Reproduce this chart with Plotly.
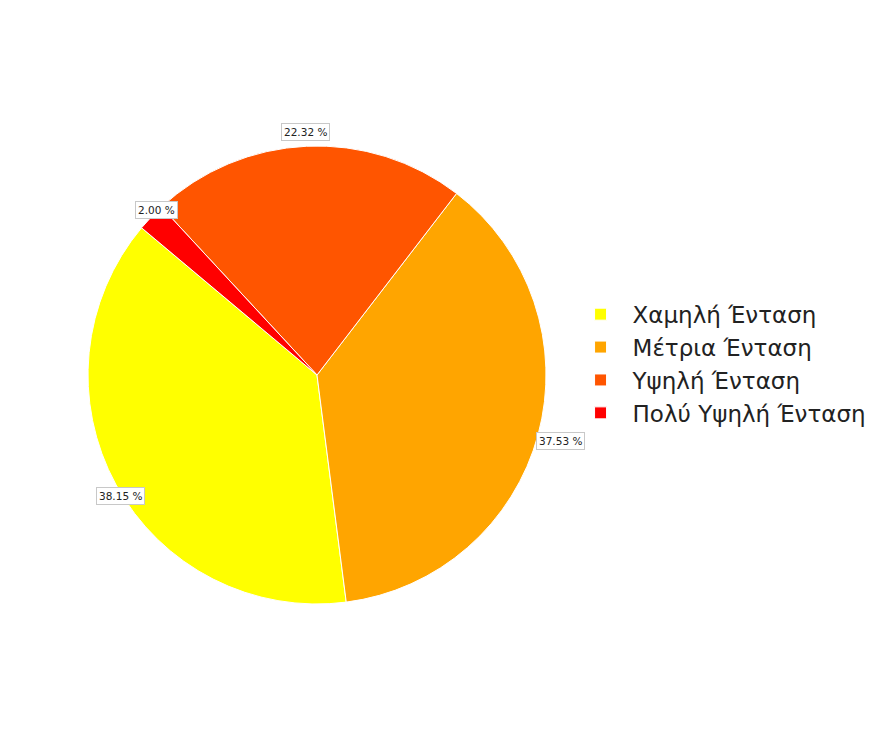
import numpy as np
import plotly.graph_objects as go

# Slice data (counterclockwise order, as in the reference)
labels = ["Χαμηλή Ένταση", "Μέτρια Ένταση", "Υψηλή Ένταση", "Πολύ Υψηλή Ένταση"]
values = [38.15, 37.53, 22.32, 2.00]
colors = ["#FFFF00", "#FFA500", "#FF5500", "#FF0000"]

W, H = 880, 738
CX, CY, R = 309, 371, 229   # pie centre (px from left / bottom) and radius
START = 140.0               # start angle of first slice, degrees ccw from +x

total = sum(values)
first_span = 360.0 * values[0] / total

fig = go.Figure(go.Pie(
    labels=labels, values=values, sort=False,
    direction="counterclockwise",
    # plotly puts the far edge of the first ccw slice at `rotation`
    rotation=90 - (START + first_span),
    marker=dict(colors=colors, line=dict(color="white", width=1)),
    textinfo="none", hoverinfo="label+percent",
    domain=dict(x=[(CX - R) / W, (CX + R) / W], y=[(CY - R) / H, (CY + R) / H]),
))

# percentage labels at 1.1 * radius, like matplotlib's pctdistance
cum = START
for v in values:
    span = 360.0 * v / total
    mid = np.radians(cum + span / 2)
    cum += span
    fig.add_annotation(
        x=(CX + 1.1 * R * np.cos(mid)) / W, y=(CY + 1.1 * R * np.sin(mid)) / H,
        xref="paper", yref="paper", showarrow=False,
        text=f"{100 * v / total:.2f} %",
        font=dict(family="DejaVu Sans", size=10.5, color="#222222"),
        bgcolor="white", bordercolor="#c8c8c8", borderwidth=1, borderpad=2,
    )

fig.update_layout(
    width=W, height=H,
    margin=dict(l=0, r=0, t=0, b=0),
    paper_bgcolor="white",
    font=dict(family="DejaVu Sans", color="#222222"),
    legend=dict(x=0.637, y=0.518, xanchor="left", yanchor="middle",
                font=dict(size=23), itemwidth=54),
)

fig.write_html("out.html")
